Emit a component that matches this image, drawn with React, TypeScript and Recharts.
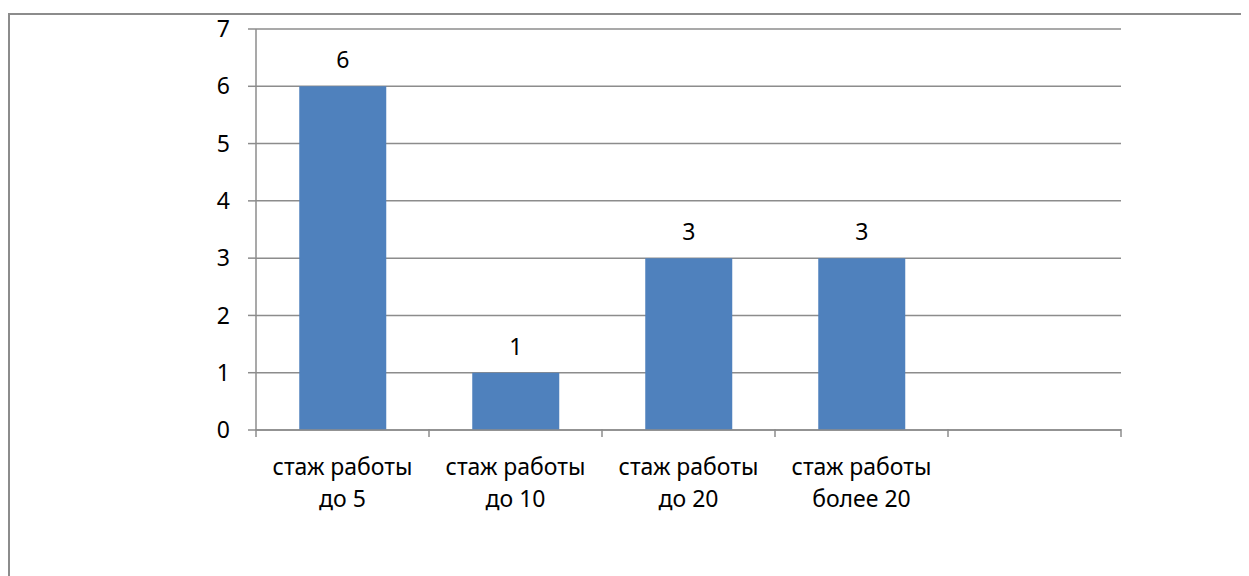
import { BarChart, Bar, XAxis, YAxis, CartesianGrid, LabelList } from "recharts";

const categories = [
  "стаж работы\nдо 5",
  "стаж работы\nдо 10",
  "стаж работы\nдо 20",
  "стаж работы\nболее 20",
  "",
];
const values = [6, 1, 3, 3, null];
const yTicks = [0, 1, 2, 3, 4, 5, 6, 7];

const data = categories.map((name, i) => ({ name, value: values[i] }));

const FONT = "'Noto Sans', 'Open Sans', sans-serif";
const AXIS = "#8c8c8c";
const FS = 23;

function CategoryTick(props: any) {
  const { x, y, payload, index, visibleTicksCount } = props;
  const half = payload?.offset || 86.4;
  const lines = String(payload.value).split("\n");
  const isLast = index === visibleTicksCount - 1;
  return (
    <g>
      <line x1={x - half} y1={y - 9} x2={x - half} y2={y - 1} stroke={AXIS} strokeWidth={1.5} />
      {isLast && (
        <line x1={x + half} y1={y - 9} x2={x + half} y2={y - 1} stroke={AXIS} strokeWidth={1.5} />
      )}
      {lines.map((line, i) => (
        <text
          key={i}
          x={x}
          y={y + 37 + i * 32}
          textAnchor="middle"
          fill="#000"
          fontSize={FS}
          fontFamily={FONT}
        >
          {line}
        </text>
      ))}
    </g>
  );
}

export default function App() {
  return (
    <div style={{ position: "relative", width: 1241, height: 568, overflow: "hidden", fontFamily: FONT }}>
      {/* outer frame, its right and bottom edges fall outside the window */}
      <div
        style={{
          position: "absolute",
          left: 0,
          top: 5,
          width: 1260,
          height: 600,
          borderLeft: `2px solid ${AXIS}`,
          borderTop: `2px solid ${AXIS}`,
        }}
      />
      <div style={{ position: "absolute", left: 2, top: 0 }}>
        <BarChart
          width={1239}
          height={568}
          data={data}
          margin={{ top: 21, right: 128, bottom: 50, left: 0 }}
          barCategoryGap="25%"
        >
          <CartesianGrid horizontal vertical={false} stroke={AXIS} strokeWidth={1.5} />
          <XAxis
            dataKey="name"
            axisLine={{ stroke: AXIS, strokeWidth: 1.5 }}
            tickLine={false}
            tick={<CategoryTick />}
            interval={0}
            height={96}
          />
          <YAxis
            width={246}
            domain={[0, 7]}
            ticks={yTicks}
            interval={0}
            axisLine={{ stroke: AXIS, strokeWidth: 1.5 }}
            tickLine={{ stroke: AXIS, strokeWidth: 1.5 }}
            tickSize={8}
            tickMargin={18}
            tick={{ fill: "#000", fontSize: FS, fontFamily: FONT }}
          />
          <Bar dataKey="value" fill="#4f81bd" isAnimationActive={false}>
            <LabelList
              dataKey="value"
              position="top"
              offset={18}
              fill="#000"
              fontSize={FS}
              fontFamily={FONT}
            />
          </Bar>
        </BarChart>
      </div>
    </div>
  );
}
